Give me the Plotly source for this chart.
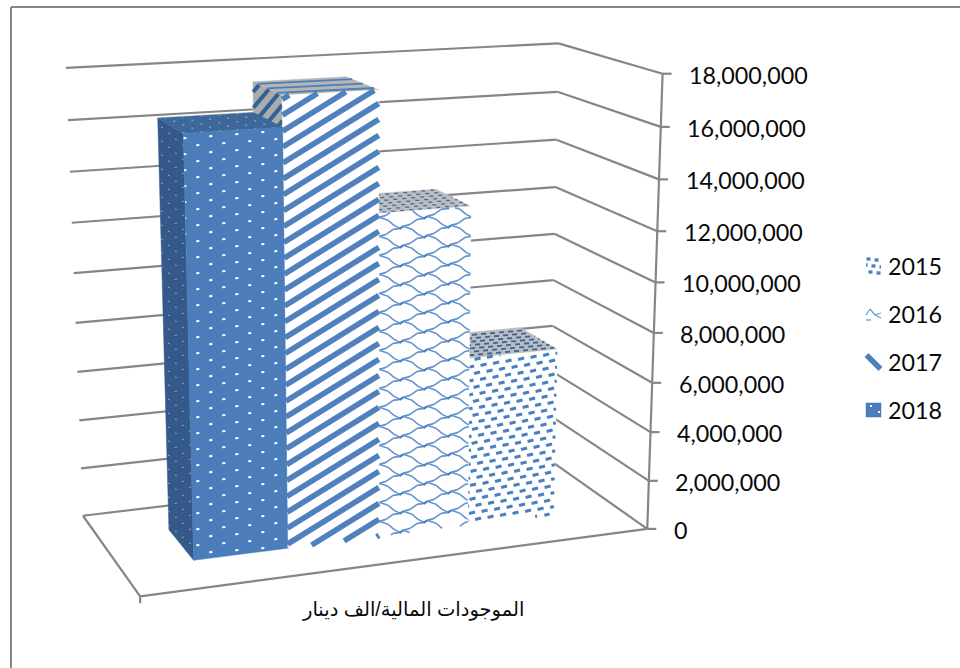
import numpy as np
import plotly.graph_objects as go

# Chart data
years = ["2018", "2017", "2016", "2015"]
assets = [16350000, 17520000, 12870000, 6860000]
axis_max = 18000000
tick_values = [0, 2000000, 4000000, 6000000, 8000000, 10000000,
               12000000, 14000000, 16000000, 18000000]
tick_labels = ["0", "2,000,000", "4,000,000", "6,000,000", "8,000,000", "10,000,000",
               "12,000,000", "14,000,000", "16,000,000", "18,000,000"]
legend_years = ["2015", "2016", "2017", "2018"]
category_title = "الموجودات المالية/الف دينار"

GRID = "#868686"
BLUE = "#4f81bd"
GREY = "#bdbdbd"
LATIN = "Lato, Carlito, sans-serif"
INK = "#0a0a0a"

# Camera: solve a pinhole projection from the plot box corners (u, depth, height) -> canvas
box_corners = [
    ((0, 1, 0), (83, 515)), ((1, 1, 0), (550, 461)), ((1, 0, 0), (647, 528)),
    ((0, 0, 0), (140, 597)), ((0, 1, 1), (66, 68)), ((1, 1, 1), (558, 43)),
    ((1, 0, 1), (663, 74)),
]
rows = []
for (a, b, c), (px, py) in box_corners:
    rows.append([a, b, c, 1, 0, 0, 0, 0, -px * a, -px * b, -px * c, -px])
    rows.append([0, 0, 0, 0, a, b, c, 1, -py * a, -py * b, -py * c, -py])
CAMERA = np.linalg.svd(np.array(rows, float))[2][-1].reshape(3, 4)


def project(u, d, h):
    p = CAMERA @ np.array([u, d, h, 1.0])
    return p[0] / p[2], p[1] / p[2]


def clip(p, q, poly):
    """Clip segment p-q against a convex polygon, returning the kept part or None."""
    p, q = np.array(p, float), np.array(q, float)
    t0, t1 = 0.0, 1.0
    pts = np.array(poly, float)
    centre = pts.mean(axis=0)
    for i in range(len(pts)):
        a, b = pts[i], pts[(i + 1) % len(pts)]
        n = np.array([-(b - a)[1], (b - a)[0]])
        if n @ (centre - a) < 0:
            n = -n
        f0, df = n @ (p - a), n @ (q - p)
        if abs(df) < 1e-9:
            if f0 < 0:
                return None
            continue
        t = -f0 / df
        if df > 0:
            t0 = max(t0, t)
        else:
            t1 = min(t1, t)
        if t0 >= t1:
            return None
    return p + (q - p) * t0, p + (q - p) * t1


fig = go.Figure()


def add_lines(segments, color, width):
    xs, ys = [], []
    for p, q in segments:
        xs += [p[0], q[0], None]
        ys += [p[1], q[1], None]
    fig.add_trace(go.Scatter(x=xs, y=ys, mode="lines", hoverinfo="skip", showlegend=False,
                             line=dict(color=color, width=width)))


def add_face(poly, color):
    xs = [p[0] for p in poly] + [poly[0][0]]
    ys = [p[1] for p in poly] + [poly[0][1]]
    fig.add_trace(go.Scatter(x=xs, y=ys, mode="lines", fill="toself", fillcolor=color,
                             hoverinfo="skip", showlegend=False,
                             line=dict(color=color, width=0.5)))


def stripes(poly, slope, spacing, color, width, phase=0.0):
    cx = np.mean([p[0] for p in poly])
    cy = np.mean([p[1] for p in poly])
    segs = []
    for k in range(-80, 81):
        c = cy + phase + k * spacing
        s = clip((cx - 400, c - 400 * slope), (cx + 400, c + 400 * slope), poly)
        if s:
            segs.append(s)
    add_lines(segs, color, width)


def lattice(poly, a, b, motif, color, width, origin=(0.0, 0.0)):
    """Repeat a list of motif segments over lattice vectors a and b, clipped to the face."""
    cx = np.mean([p[0] for p in poly]) + origin[0]
    cy = np.mean([p[1] for p in poly]) + origin[1]
    segs = []
    for i in range(-70, 71):
        for j in range(-70, 71):
            ox = cx + i * a[0] + j * b[0]
            oy = cy + i * a[1] + j * b[1]
            if abs(ox - cx) > 500 or abs(oy - cy) > 500:
                continue
            for p, q in motif:
                s = clip((ox + p[0], oy + p[1]), (ox + q[0], oy + q[1]), poly)
                if s:
                    segs.append(s)
    add_lines(segs, color, width)


def tex_2018_front(poly):
    add_face(poly, "#4a7dba")
    lattice(poly, (26, -2), (13, 7), [((-1.5, 0), (1.5, -0.2))], "white", 2)


def tex_2017_front(poly):
    add_face(poly, "white")
    stripes(poly, -0.62, 16, BLUE, 5.6, phase=7)


def honeycomb(poly, color, width):
    rising = [((3, -2), (10, -4)), ((10, -4), (17, -9)), ((17, -9), (24, -10))]
    falling = [((3, -2), (12, 1)), ((12, 1), (18, 6)), ((18, 6), (24, 9))]
    lattice(poly, (24, -10), (0, 19), rising + falling, color, width)
    lattice(poly, (24, -10), (0, 19), [((-0.5, 0.5), (3, -2))], "#4a7fc0", 2.4)


def tex_2016_front(poly):
    add_face(poly, "white")
    honeycomb(poly, "#6393cf", 1.6)


def tex_2015_front(poly):
    add_face(poly, "white")
    lattice(poly, (12.5, -2), (6, 6), [((-3, 0.7), (3, -0.8))], "#4a80c2", 3)


# One footprint per category, side by side across the floor
n_bars = len(assets)
gap_u = 0.137
width_u = 0.1825
front_d, back_d = 0.31, 0.70

# Walls and floor
for v in tick_values:
    h = v / axis_max
    a, b, c = project(0, 1, h), project(1, 1, h), project(1, 0, h)
    add_lines([(a, b), (b, c), (c, (c[0] + 9, c[1]))], GRID, 2.2)
    fig.add_annotation(x=c[0] + 24.5, y=c[1] + 1, text=tick_labels[tick_values.index(v)],
                       xanchor="left", yanchor="middle", showarrow=False,
                       font=dict(family=LATIN, size=23.3, color=INK))
floor_back = project(0, 1, 0)
floor_left = project(0, 0, 0)
floor_right = project(1, 0, 0)
add_lines([(floor_back, floor_left), (floor_left, floor_right),
           (floor_left, (floor_left[0], floor_left[1] + 7)),
           (floor_right, project(1, 0, 1))], GRID, 2.2)

# Columns, painted from the right-hand one towards the viewer's left
for i in reversed(range(n_bars)):
    u0 = gap_u + i * width_u
    u1 = u0 + width_u
    h = assets[i] / axis_max
    front = [project(u0, front_d, 0), project(u1, front_d, 0),
             project(u1, front_d, h), project(u0, front_d, h)]
    side = [project(u0, back_d, 0), project(u0, front_d, 0),
            project(u0, front_d, h), project(u0, back_d, h)]
    top = [project(u0, front_d, h), project(u1, front_d, h),
           project(u1, back_d, h), project(u0, back_d, h)]
    year = years[i]
    if year == "2018":
        add_face(side, "#34598a")
        lattice(side, (7, 6), (0, 14), [((-0.8, 0), (0.8, 0))], "#8ea4be", 1.4)
        add_face(top, "#3d6899")
        lattice(top, (18, -1), (9, 3.5), [((-1, 0), (1, 0))], "#86a0c0", 1.4)
        tex_2018_front(front)
    elif year == "2017":
        add_face(side, "#ababab")
        stripes(side, -1.2, 16, "#2f6299", 4)
        add_face(top, "#b5b5b5")
        stripes(top, -0.05, 5, "#4a7fb8", 1.9)
        tex_2017_front(front)
    elif year == "2016":
        add_face(top, GREY)
        lattice(top, (9, -0.8), (4, 2.6), [((-2, 0), (2, 0))], "#3f6ea6", 1.3)
        tex_2016_front(front)
    else:
        add_face(top, GREY)
        lattice(top, (9, -0.8), (4, 3), [((-2.5, 0.2), (2.5, -0.2))], "#34659f", 1.8)
        tex_2015_front(front)

# Category title under the floor
fig.add_annotation(x=413, y=609, text=category_title, showarrow=False,
                   xanchor="center", yanchor="middle",
                   font=dict(family="Liberation Sans, DejaVu Sans, sans-serif", size=19.5, color=INK))

# Key
key_y = [266, 314, 362, 410]
for yr, y in zip(legend_years, key_y):
    sq = [(866, y - 7), (881, y - 7), (881, y + 7), (866, y + 7)]
    if yr == "2015":
        add_face(sq, "white")
        lattice(sq, (8, 1), (-3, 6), [((-2, 0), (2, 0))], BLUE, 3.4)
    elif yr == "2016":
        add_face(sq, "white")
        add_lines([((866, y + 1), (870, y - 5)), ((870, y - 5), (875, y + 1)),
                   ((875, y + 1), (881, y - 1)), ((875, y + 1), (881, y + 4)),
                   ((866, y + 6), (871, y + 6))], "#6d9bd2", 1.3)
    elif yr == "2017":
        add_face(sq, "white")
        stripes(sq, 1.0, 16, BLUE, 5.5)
    else:
        add_face(sq, "#4a7dba")
        add_lines([((870, y - 4), (872, y - 4)), ((878, y + 2), (880, y + 2))], "white", 2)
    fig.add_annotation(x=886, y=y, text=yr, showarrow=False, xanchor="left", yanchor="middle",
                       font=dict(family=LATIN, size=23.3, color=INK))

# Chart frame
add_lines([((11, 668), (11, 7)), ((11, 7), (960, 7))], GRID, 2)

fig.update_layout(
    width=960, height=668, margin=dict(l=0, r=0, t=0, b=0),
    paper_bgcolor="white", plot_bgcolor="white", showlegend=False,
    xaxis=dict(range=[0, 960], visible=False, fixedrange=True),
    yaxis=dict(range=[668, 0], visible=False, fixedrange=True),
)
fig.write_html("out.html", config=dict(displayModeBar=False))
